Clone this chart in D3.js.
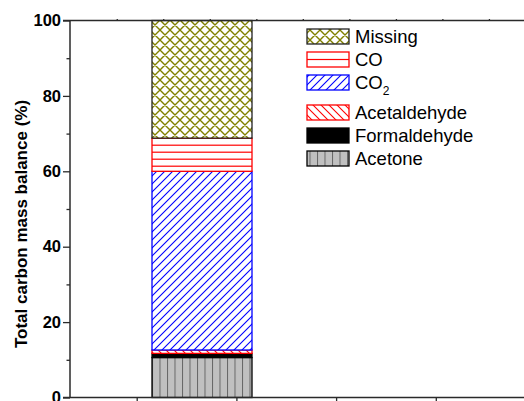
<!DOCTYPE html>
<html>
<head>
<meta charset="utf-8">
<script src="https://cdn.jsdelivr.net/npm/d3@7"></script>
<style>
  html, body { margin: 0; padding: 0; background: #fff; }
  svg { display: block; font-family: "Liberation Sans", Arial, sans-serif; }
</style>
</head>
<body>
<svg id="chart" width="524" height="401"></svg>
<script>
// ---- data ----
const categories = ["Sample"];
const components = ["Acetone", "Formaldehyde", "Acetaldehyde", "CO2", "CO", "Missing"];
const acetone = [10.6];
const formaldehyde = [1.1];
const acetaldehyde = [0.9];
const co2 = [47.4];
const co = [8.8];
const missing = [31.2];
const yTicks = [0, 20, 40, 60, 80, 100];
const yMinorTicks = [10, 30, 50, 70, 90];
const bottomTicks = [1, 2, 3, 4];
const topTicks = [0.8, 1.266, 1.733, 2.2, 2.666, 3.133, 3.6, 4.066, 4.533];
const legendOrder = ["Missing", "CO", "CO2", "Acetaldehyde", "Formaldehyde", "Acetone"];
const legendLabels = { Missing: "Missing", CO: "CO", CO2: "CO", Acetaldehyde: "Acetaldehyde", Formaldehyde: "Formaldehyde", Acetone: "Acetone" };
const yTitle = "Total carbon mass balance (%)";

// ---- build table ----
const seriesMap = { Acetone: acetone, Formaldehyde: formaldehyde, Acetaldehyde: acetaldehyde, CO2: co2, CO: co, Missing: missing };
const table = categories.map((c, i) => {
  const row = { category: c };
  components.forEach(k => row[k] = seriesMap[k][i]);
  return row;
});

const svg = d3.select("#chart");
const plot = { left: 70, right: 600, top: 20.5, bottom: 397.5 };

const y = d3.scaleLinear().domain([0, 100]).range([plot.bottom, plot.top]);
const x = d3.scaleBand().domain(categories).range([plot.left, 334]).paddingInner(0).paddingOuter(0.82);
const xAxisScale = d3.scaleLinear().domain([0, 5]).range([37, 535.5]);

// ---- patterns ----
const defs = svg.append("defs");
function linePattern(id, w, h, paths, color, sw, bg, transform) {
  const p = defs.append("pattern").attr("id", id).attr("patternUnits", "userSpaceOnUse")
    .attr("width", w).attr("height", h);
  if (transform) p.attr("patternTransform", transform);
  p.append("rect").attr("width", w).attr("height", h).attr("fill", bg);
  p.append("path").attr("d", paths).attr("stroke", color).attr("stroke-width", sw).attr("fill", "none");
}
// Missing: olive crosshatch
linePattern("pMissing", 10, 10, "M0,0L10,10M10,0L0,10M-1,-1L1,1M9,9L11,11M9,1L11,-1M-1,11L1,9", "#808000", 1.4, "#fff");
// CO: horizontal red lines
linePattern("pCO", 10, 7, "M-1,5.2H11", "#ff0000", 1.2, "#fff");
linePattern("pCOleg", 10, 15, "M-1,7.5H11", "#ff0000", 1.2, "#fff", "translate(0,52)");
// CO2: blue forward diagonal
linePattern("pCO2", 8, 8, "M-2,2L2,-2M0,8L8,0M6,10L10,6", "#0000ff", 1.1, "#fff");
// Acetaldehyde: red back diagonal
linePattern("pAcet", 8, 8, "M-2,6L2,10M0,0L8,8M6,-2L10,2", "#ff0000", 1.1, "#fff");
// Acetone: grey with vertical lines
linePattern("pAcetone", 7.5, 10, "M0.2,-1V11", "#666666", 1.6, "#c0c0c0", "translate(152,0)");

const styles = {
  Missing: { fill: "url(#pMissing)", stroke: "#222" },
  CO: { fill: "url(#pCO)", stroke: "#ff0000" },
  CO2: { fill: "url(#pCO2)", stroke: "#0000ff" },
  Acetaldehyde: { fill: "url(#pAcet)", stroke: "#ff0000" },
  Formaldehyde: { fill: "#000", stroke: "#000" },
  Acetone: { fill: "url(#pAcetone)", stroke: "#000" }
};
const legendFill = Object.assign({}, styles, { CO: { fill: "url(#pCOleg)", stroke: "#ff0000" } });

// ---- bars ----
const stacked = d3.stack().keys(components)(table);
const layers = svg.append("g").selectAll("g").data(stacked).join("g");
layers.selectAll("rect").data(d => d.map(v => ({ key: d.key, v }))).join("rect")
  .attr("x", d => x(d.v.data.category))
  .attr("width", x.bandwidth())
  .attr("y", d => y(d.v[1]))
  .attr("height", d => y(d.v[0]) - y(d.v[1]))
  .attr("fill", d => styles[d.key].fill)
  .attr("stroke", d => styles[d.key].stroke)
  .attr("stroke-width", 1.3);

// ---- axes ----
const axisColor = "#2a2a2a";
const gLeft = svg.append("g").attr("transform", `translate(${plot.left},0)`)
  .call(d3.axisLeft(y).tickValues(yTicks).tickSize(7).tickPadding(2).tickFormat(d3.format("d")));
const gLeftMinor = svg.append("g").attr("transform", `translate(${plot.left},0)`)
  .call(d3.axisLeft(y).tickValues(yMinorTicks).tickSize(3.5).tickFormat(""));
const gBottom = svg.append("g").attr("transform", `translate(0,${plot.bottom})`)
  .call(d3.axisBottom(xAxisScale).tickValues(bottomTicks).tickSize(5).tickFormat(""));
const gTop = svg.append("g").attr("transform", `translate(0,${plot.top})`)
  .call(d3.axisTop(xAxisScale).tickValues(topTicks).tickSize(1.5).tickFormat(""));

[gLeft, gLeftMinor, gBottom, gTop].forEach(g => {
  g.select(".domain").remove();
  g.selectAll(".tick line").attr("stroke", axisColor).attr("stroke-width", 1.3);
});
gLeft.selectAll(".tick text")
  .attr("font-size", 16.5).attr("font-weight", "bold").attr("fill", "#000")
  .attr("font-family", "'Liberation Sans', Arial, sans-serif");

// frame lines
svg.append("line").attr("x1", plot.left).attr("x2", plot.left).attr("y1", y(100)).attr("y2", y(0))
  .attr("stroke", axisColor).attr("stroke-width", 1.5);
svg.append("line").attr("x1", plot.left - 7).attr("x2", 524).attr("y1", y(100)).attr("y2", y(100))
  .attr("stroke", axisColor).attr("stroke-width", 1.5);
svg.append("line").attr("x1", plot.left - 7).attr("x2", 524).attr("y1", y(0)).attr("y2", y(0))
  .attr("stroke", axisColor).attr("stroke-width", 1.5);

// y title
svg.append("text")
  .attr("transform", `translate(27,${(y(0) + y(100)) / 2 + 15}) rotate(-90)`)
  .attr("text-anchor", "middle")
  .attr("font-size", 17).attr("font-weight", "bold").attr("fill", "#000")
  .text(yTitle);

// ---- legend ----
const legend = svg.append("g");
legendOrder.forEach((k, i) => {
  const top = 29 + i * 23 + (i >= 3 ? 7 : 0);
  legend.append("rect").attr("x", 307).attr("y", top).attr("width", 42).attr("height", 15)
    .attr("fill", legendFill[k].fill).attr("stroke", legendFill[k].stroke).attr("stroke-width", 1.3);
  const t = legend.append("text").attr("x", 355).attr("y", top + 14)
    .attr("font-size", 18.5).attr("fill", "#000").text(legendLabels[k]);
  if (k === "CO2") {
    t.append("tspan").attr("font-size", 12).attr("dy", 6).text("2");
  }
});
</script>
</body>
</html>
